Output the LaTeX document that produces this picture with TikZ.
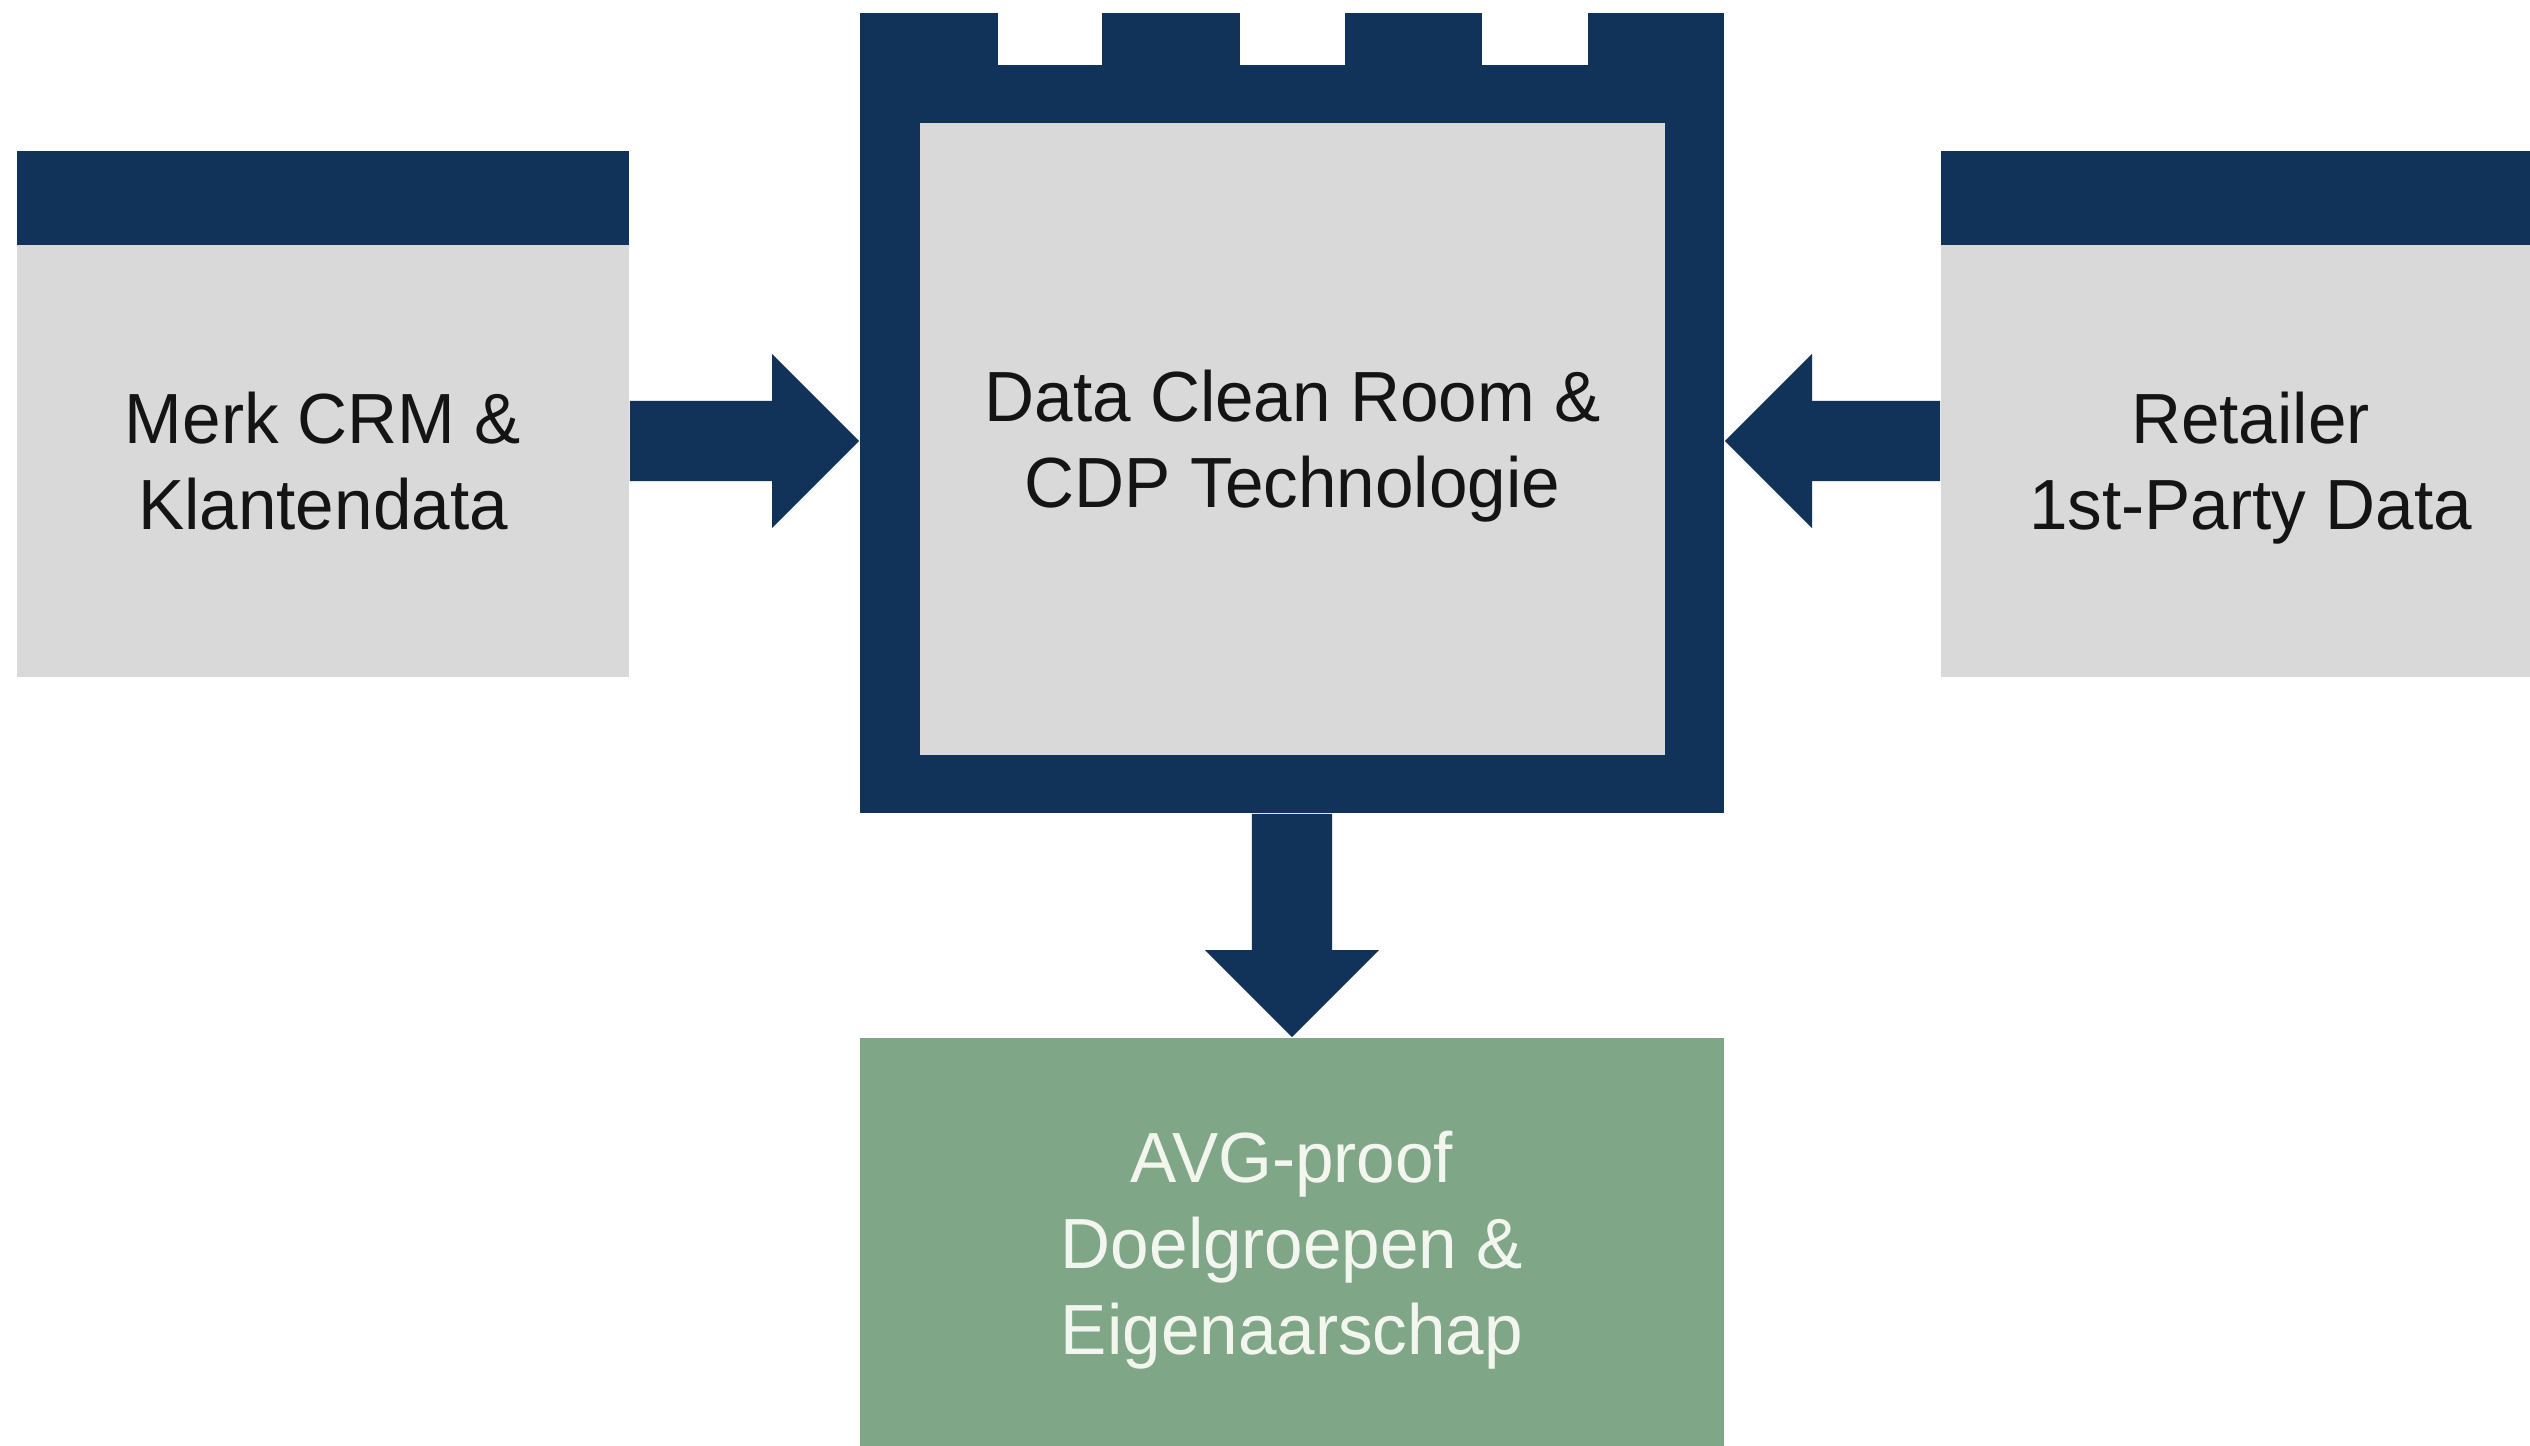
\documentclass[tikz,border=0pt]{standalone}
\usepackage{fontspec}
\setmainfont{Liberation Sans}[FakeStretch=0.975]
\usetikzlibrary{calc}
\definecolor{navy}{HTML}{123359}
\definecolor{panel}{HTML}{D9D9D9}
\definecolor{sage}{HTML}{80A688}
\definecolor{ink}{HTML}{141414}
\definecolor{paper}{HTML}{F3F6EE}

% Thick block arrow from #1 to #2 (shaft half-width, head half-width, head length)
\newcommand\blockarrow[2]{%
  \coordinate (hb) at ($(#2)!0.87cm!(#1)$);
  \fill[navy] ($(#1)!0.40cm!90:(#2)$) -- ($(hb)!0.40cm!90:(#2)$) --
    ($(hb)!0.87cm!90:(#2)$) -- (#2) -- ($(hb)!0.87cm!-90:(#2)$) --
    ($(hb)!0.40cm!-90:(#2)$) -- ($(#1)!0.40cm!-90:(#2)$) -- cycle;
}

\tikzset{
  panelbox/.style={fill=panel, inner sep=0pt, text=ink, align=center,
    font=\fontsize{20.2}{24.5}\selectfont},
  headbar/.style={fill=navy, inner sep=0pt},
  resultbox/.style={fill=sage, inner sep=0pt, text=paper, align=center,
    font=\fontsize{20.2}{24.5}\selectfont},
}

\begin{document}
\begin{tikzpicture}[x=0.01cm, y=-0.01cm]
  \useasboundingbox (0,0) rectangle (2530,1445);
  \clip (0,0) rectangle (2530,1445);
  \fill[white] (0,0) rectangle (2530,1445);

  % left source: brand CRM
  \node[headbar, minimum width=6.12cm, minimum height=0.94cm] (merkhead) at (323,198) {};
  \node[panelbox, minimum width=6.12cm, minimum height=4.32cm] (merk) at (323,461)
    {Merk CRM \&\\Klantendata};

  % right source: retailer data
  \node[headbar, minimum width=6.19cm, minimum height=0.94cm] (retailhead) at (2250.5,198) {};
  \node[panelbox, text depth=0pt, minimum width=6.19cm, minimum height=4.32cm] (retail) at (2250.5,461)
    {Retailer\\1st-Party Data};

  % central clean room: navy frame with notched top edge
  \node[fill=navy, inner sep=0pt, minimum width=8.64cm, minimum height=8.00cm] (frame) at (1292,413) {};
  \fill[white] (998,0) rectangle (1102,65);
  \fill[white] (1240,0) rectangle (1345,65);
  \fill[white] (1482,0) rectangle (1588,65);
  \node[panelbox, text depth=0pt, minimum width=7.45cm, minimum height=6.32cm] (room) at (1292.5,439)
    {Data Clean Room \&\\CDP Technologie};

  % outcome
  \node[resultbox, minimum width=8.64cm, minimum height=4.24cm] (avg) at (1292,1250)
    {AVG-proof\\Doelgroepen \&\\Eigenaarschap};

  % flows
  \coordinate (lin) at ($(merk.east)+(0,-20)$);
  \coordinate (lout) at (frame.west |- lin);
  \blockarrow{lin}{lout}
  \coordinate (rin) at ($(retail.west)+(0,-20)$);
  \coordinate (rout) at (frame.east |- rin);
  \blockarrow{rin}{rout}
  \blockarrow{frame.south}{avg.north}
\end{tikzpicture}
\end{document}
